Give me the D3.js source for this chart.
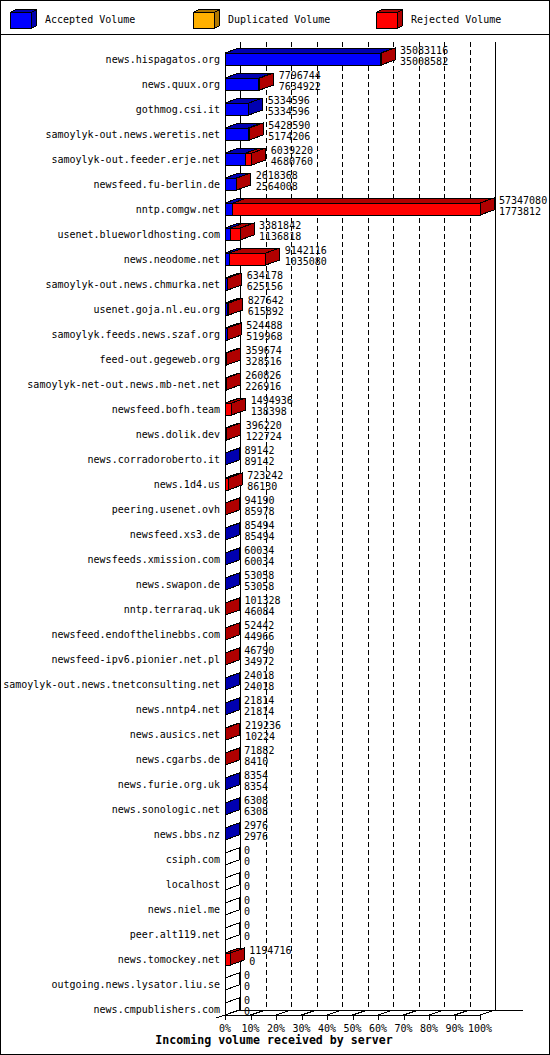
<!DOCTYPE html>
<html>
<head>
<meta charset="utf-8">
<script src="https://cdn.jsdelivr.net/npm/d3@7"></script>
<style>
body { margin: 0; background: #fff; }
svg { display: block; }
text { font-family: "DejaVu Sans Mono", "Liberation Mono", monospace; font-size: 10px; fill: #000; }
.title { font-weight: bold; font-size: 11.6px; }
</style>
</head>
<body>
<svg id="chart" width="550" height="1055"></svg>
<script>
// servers, sorted the way innreport lists them
const servers = [
    "news.hispagatos.org", "news.quux.org", "gothmog.csi.it", "samoylyk-out.news.weretis.net",
    "samoylyk-out.feeder.erje.net", "newsfeed.fu-berlin.de", "nntp.comgw.net", "usenet.blueworldhosting.com",
    "news.neodome.net", "samoylyk-out.news.chmurka.net", "usenet.goja.nl.eu.org", "samoylyk.feeds.news.szaf.org",
    "feed-out.gegeweb.org", "samoylyk-net-out.news.mb-net.net", "newsfeed.bofh.team", "news.dolik.dev",
    "news.corradoroberto.it", "news.1d4.us", "peering.usenet.ovh", "newsfeed.xs3.de",
    "newsfeeds.xmission.com", "news.swapon.de", "nntp.terraraq.uk", "newsfeed.endofthelinebbs.com",
    "newsfeed-ipv6.pionier.net.pl", "samoylyk-out.news.tnetconsulting.net", "news.nntp4.net", "news.ausics.net",
    "news.cgarbs.de", "news.furie.org.uk", "news.sonologic.net", "news.bbs.nz",
    "csiph.com", "localhost", "news.niel.me", "peer.alt119.net",
    "news.tomockey.net", "outgoing.news.lysator.liu.se", "news.cmpublishers.com"
];

// first number printed next to each bar (total volume)
const totalVol = [
    35083116, 7796744, 5334596, 5428590, 6039220, 2618368, 57347080, 3381842,
    9142116, 634178, 827642, 524488, 359674, 260826, 1494936, 396220,
    89142, 723242, 94190, 85494, 60034, 53058, 101328, 52442,
    46790, 24018, 21814, 219236, 71882, 8354, 6308, 2976,
    0, 0, 0, 0, 1194716, 0, 0
];

// second number printed (accepted volume)
const acceptedVol = [
    35008582, 7634922, 5334596, 5174206, 4680760, 2564008, 1773812, 1136818,
    1035080, 625156, 615892, 519968, 328516, 226916, 138398, 122724,
    89142, 86130, 85978, 85494, 60034, 53058, 46084, 44966,
    34972, 24018, 21814, 10224, 8410, 8354, 6308, 2976,
    0, 0, 0, 0, 0, 0, 0
];

const duplicatedVol = [
    0, 0, 0, 0, 0, 0, 0, 0, 0, 0, 0, 0, 0, 0, 0, 0, 0, 0, 0, 0,
    0, 0, 0, 0, 0, 0, 0, 0, 0, 0, 0, 0, 0, 0, 0, 0, 0, 0, 0
];

const rejectedVol = [
    74534, 161822, 0, 254384, 1358460, 54360, 55573268, 2245024,
    8107036, 9022, 211750, 4520, 31158, 33910, 1356538, 273496,
    0, 637112, 8212, 0, 0, 0, 55244, 7476,
    11818, 0, 0, 209012, 63472, 0, 0, 0,
    0, 0, 0, 0, 1194716, 0, 0
];

const tickPct = [0, 10, 20, 30, 40, 50, 60, 70, 80, 90, 100];
const legendNames = ["Accepted Volume", "Duplicated Volume", "Rejected Volume"];
const xTitle = "Incoming volume received by server";

// couleurs: face avant / face sombre
const FRONT = ["#0000ff", "#ffb000", "#ff0000"];
const DARK = ["#0000b0", "#b07800", "#b00000"];

const W = 550, H = 1055;
const DX = 14, DY = 5;      // profondeur 3D des barres
const WX = 15, WY = 5;      // profondeur des murs
const barH = 12;

const svg = d3.select('#chart');
svg.attr('shape-rendering', 'crispEdges');

const x = d3.scaleLinear().domain([0, d3.max(totalVol)]).range([225, 480]);
const pct = d3.scaleLinear().domain([0, 100]).range([225, 480]);
const y = d3.scalePoint().domain(servers).range([59, 1009]);

const floorY = 1015;
const wallTop = 42;

// cadre + légende
svg.append('rect').attr('x', 0.5).attr('y', 0.5).attr('width', W - 1).attr('height', H - 1)
    .attr('fill', 'none').attr('stroke', '#000');
svg.append('line').attr('x1', 0).attr('x2', W).attr('y1', 34.5).attr('y2', 34.5).attr('stroke', '#000');

const legendX = [10, 193, 376];
legendNames.forEach((name, i) => {
    const g = svg.append('g').attr('transform', `translate(${legendX[i]},0)`);
    const bx = 0.5, by = 12.5, bw = 21, bh = 16, dx = 5, dy = 3;
    g.append('polygon')
        .attr('points', [[bx, by], [bx + bw, by], [bx + bw + dx, by - dy], [bx + dx, by - dy]].join(' '))
        .attr('fill', DARK[i]).attr('stroke', '#000');
    g.append('polygon')
        .attr('points', [[bx + bw, by], [bx + bw + dx, by - dy], [bx + bw + dx, by + bh - dy], [bx + bw, by + bh]].join(' '))
        .attr('fill', DARK[i]).attr('stroke', '#000');
    g.append('rect').attr('x', bx).attr('y', by).attr('width', bw).attr('height', bh)
        .attr('fill', FRONT[i]).attr('stroke', '#000');
    g.append('text').attr('x', 35).attr('y', 23).text(name);
});

// murs, grille et sol
const grid = svg.append('g').attr('stroke', '#000').attr('fill', 'none');
tickPct.slice(1, -1).forEach(t => {
    grid.append('line')
        .attr('x1', pct(t) + WX + 0.5).attr('x2', pct(t) + WX + 0.5)
        .attr('y1', wallTop).attr('y2', floorY - WY)
        .attr('stroke-dasharray', '5,3');
});
grid.append('line').attr('x1', pct(0) + WX + 0.5).attr('x2', pct(0) + WX + 0.5)
    .attr('y1', wallTop).attr('y2', floorY - WY);
grid.append('line').attr('x1', pct(100) + WX + 0.5).attr('x2', pct(100) + WX + 0.5)
    .attr('y1', wallTop).attr('y2', floorY - WY);
grid.append('line').attr('x1', pct(0) + WX).attr('x2', 523)
    .attr('y1', floorY - WY + 0.5).attr('y2', floorY - WY + 0.5);
grid.append('line').attr('x1', pct(0) + 0.5).attr('x2', pct(0) + 0.5)
    .attr('y1', 53).attr('y2', floorY);
grid.append('line').attr('x1', pct(0)).attr('x2', pct(100))
    .attr('y1', floorY + 0.5).attr('y2', floorY + 0.5);
grid.append('line').attr('x1', pct(0) + WX).attr('y1', floorY - WY)
    .attr('x2', 216).attr('y2', floorY + 3);
tickPct.forEach(t => {
    grid.append('line').attr('x1', pct(t)).attr('y1', floorY)
        .attr('x2', pct(t) + WX).attr('y2', floorY - WY);
    grid.append('line').attr('x1', pct(t) + 0.5).attr('x2', pct(t) + 0.5)
        .attr('y1', floorY).attr('y2', floorY + 5);
});

svg.append('g').selectAll('text')
    .data(tickPct)
    .enter()
    .append('text')
    .attr('x', d => pct(d))
    .attr('y', 1032)
    .attr('text-anchor', 'middle')
    .text(d => d + '%');

svg.append('text').attr('class', 'title')
    .attr('x', 274).attr('y', 1044)
    .attr('text-anchor', 'middle')
    .text(xTitle);

// barres 3D empilées
const bars = svg.append('g').attr('stroke', '#000');
servers.forEach((name, i) => {
    const c = y(name);
    const top = c - 6, bottom = top + barH;
    const vals = [acceptedVol[i], duplicatedVol[i], rejectedVol[i]];
    let x0 = x(0);
    let last = -1;
    vals.forEach((v, k) => {
        if (v <= 0) return;
        const x1 = x0 + (x(v) - x(0));
        bars.append('rect')
            .attr('x', x0).attr('y', top).attr('width', x1 - x0).attr('height', barH)
            .attr('fill', FRONT[k]);
        bars.append('polygon')
            .attr('points', [[x0, top], [x1, top], [x1 + DX, top - DY], [x0 + DX, top - DY]].join(' '))
            .attr('fill', DARK[k]);
        x0 = x1;
        last = k;
    });
    const xe = x(totalVol[i]);
    bars.append('polygon')
        .attr('points', [[xe, top], [xe + DX, top - DY], [xe + DX, bottom - DY], [xe, bottom]].join(' '))
        .attr('fill', last >= 0 ? DARK[last] : 'none');

    svg.append('text').attr('x', xe + 19).attr('y', c - 5).text(totalVol[i]);
    svg.append('text').attr('x', xe + 19).attr('y', c + 5.5).text(acceptedVol[i]);
    svg.append('text').attr('x', 220).attr('y', c + 4)
        .attr('text-anchor', 'end').text(name);
});
</script>
</body>
</html>
